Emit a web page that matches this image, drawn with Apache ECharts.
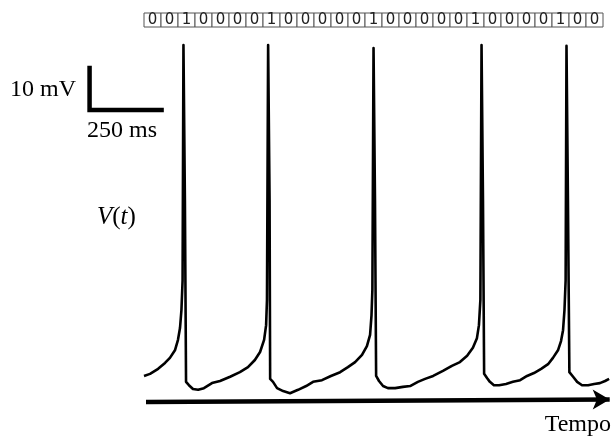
<!DOCTYPE html>
<html>
<head>
<meta charset="utf-8">
<script src="https://cdn.jsdelivr.net/npm/echarts@6/dist/echarts.min.js"></script>
<style>
    html, body { margin: 0; padding: 0; background: #fff; }
    #main { width: 613px; height: 437px; }
</style>
</head>
<body>
<div id="main"></div>
<script>
// spike code shown above the trace
var bits = [0,0,1,0,0,0,0,1,0,0,0,0,0,1,0,0,0,0,0,1,0,0,0,0,1,0,0];

// membrane potential trace (ms, mV)
var timeMs = [
    0, 21, 49, 73, 90, 108, 118, 125, 130, 134, 137, 142, 146,
    156, 170, 188, 208, 236, 264, 299, 333, 361, 385, 403, 417, 424, 427, 431, 436, 438,
    448, 462, 483, 507, 535, 563, 587, 618, 649, 681, 708, 733, 757, 774, 785, 790, 793, 797, 802, 806,
    816, 830, 847, 872, 899, 924, 951, 976, 1004, 1038, 1069, 1097, 1122, 1142, 1156, 1163, 1168, 1172, 1177, 1181,
    1191, 1201, 1215, 1233, 1257, 1281, 1306, 1330, 1354, 1379, 1403, 1420, 1438, 1448, 1455, 1460, 1464, 1467, 1472, 1477,
    1490, 1504, 1521, 1542, 1563, 1583, 1601, 1615
];
var voltageMv = [
    -58.8, -58.3, -57.1, -55.7, -54.5, -52.6, -50.2, -47.4, -43.1, -36, 20, -16.9, -60.2,
    -61, -61.9, -62.1, -61.7, -60.5, -60, -59, -57.9, -56.7, -55, -53.1, -50.2, -46.7, -40.7, 20, -16.9, -59.5,
    -60.2, -61.7, -62.4, -62.9, -62.1, -61.2, -60.2, -59.8, -58.8, -57.9, -56.7, -55.5, -53.8, -51.7, -49, -44.3, -38.3, 19.3, -16.9, -58.8,
    -60, -61.2, -61.7, -61.7, -61.4, -61.2, -60.2, -59.5, -58.8, -57.6, -56.4, -55.5, -54, -52.1, -49.8, -46.7, -40.7, 20, -16.9, -58.3,
    -59.3, -60.2, -61, -61, -60.7, -60.2, -59.8, -58.8, -58.1, -57.1, -56, -54.5, -52.6, -50.5, -47.9, -43.1, -36, 19.8, -16.9, -57.9,
    -59, -60.2, -61, -61, -60.7, -60.5, -60, -59.5
];

// scale bar: 10 mV by 250 ms
var scaleTime = [-189, -189, 61];
var scaleVolt = [14.5, 4.5, 4.5];

// time arrow under the trace
var arrowTime = [7, 1617];
var arrowVolt = [-65, -64.4];

var chartDom = document.getElementById('main');
var myChart = echarts.init(chartDom);

var trace = timeMs.map(function (t, i) { return [t, voltageMv[i]]; });
var scaleBar = scaleTime.map(function (t, i) { return [t, scaleVolt[i]]; });
var bitData = bits.map(function (b, i) { return [i, b]; });

var serif = '"Liberation Serif", "DejaVu Serif", serif';

var option = {
    animation: false,
    backgroundColor: '#fff',
    grid: [
        // 0.288 px per ms, 4.2 px per mV
        { left: 0, width: 612, top: 24, height: 399 },
        { left: 144, width: 459, top: 13, height: 14 }
    ],
    xAxis: [
        { type: 'value', min: -500, max: 1625, show: false, gridIndex: 0 },
        { type: 'category', data: bits.map(function (b, i) { return i; }), show: false, gridIndex: 1 }
    ],
    yAxis: [
        { type: 'value', min: -70, max: 25, show: false, gridIndex: 0 },
        { type: 'value', min: 0, max: 1, show: false, gridIndex: 1 }
    ],
    graphic: [
        {
            type: 'text', left: 10, top: 78,
            style: { text: '10 mV', font: '24px ' + serif, fill: '#000' }
        },
        {
            type: 'text', left: 87, top: 119,
            style: { text: '250 ms', font: '24px ' + serif, fill: '#000' }
        },
        {
            type: 'text', left: 97, top: 205,
            style: {
                text: '{i|V}{n|(}{i|t}{n|)}',
                rich: {
                    i: { font: 'italic 25px ' + serif, fill: '#000' },
                    n: { font: '25px ' + serif, fill: '#000' }
                }
            }
        },
        {
            type: 'text', right: 2, top: 413,
            style: { text: 'Tempo', font: '24px ' + serif, fill: '#000' }
        }
    ],
    series: [
        {
            type: 'line',
            data: trace,
            showSymbol: false,
            clip: false,
            lineStyle: { color: '#000', width: 2.6, join: 'round' },
            markLine: {
                silent: true,
                symbol: ['none', 'arrow'],
                symbolSize: [15, 17],
                label: { show: false },
                lineStyle: { color: '#000', width: 4.5, type: 'solid' },
                data: [[
                    { coord: [arrowTime[0], arrowVolt[0]] },
                    { coord: [arrowTime[1], arrowVolt[1]] }
                ]]
            }
        },
        {
            type: 'line',
            data: scaleBar,
            showSymbol: false,
            clip: false,
            lineStyle: { color: '#000', width: 4.5, cap: 'square', join: 'miter' }
        },
        {
            type: 'custom',
            xAxisIndex: 1,
            yAxisIndex: 1,
            data: bitData,
            renderItem: function (params, api) {
                var c = api.coord([api.value(0), 0]);
                var w = api.size([1, 0])[0];
                var sys = params.coordSys;
                return {
                    type: 'group',
                    children: [
                        {
                            type: 'rect',
                            shape: { x: c[0] - w / 2, y: sys.y, width: w, height: sys.height },
                            style: { fill: '#fff', stroke: '#555', lineWidth: 1 }
                        },
                        {
                            type: 'text',
                            style: {
                                text: String(api.value(1)),
                                x: c[0], y: sys.y + sys.height / 2 + 0.5,
                                align: 'center', verticalAlign: 'middle',
                                font: '15px "DejaVu Sans", Verdana, sans-serif',
                                fill: '#222'
                            }
                        }
                    ]
                };
            }
        }
    ]
};

option && myChart.setOption(option);
</script>
</body>
</html>
